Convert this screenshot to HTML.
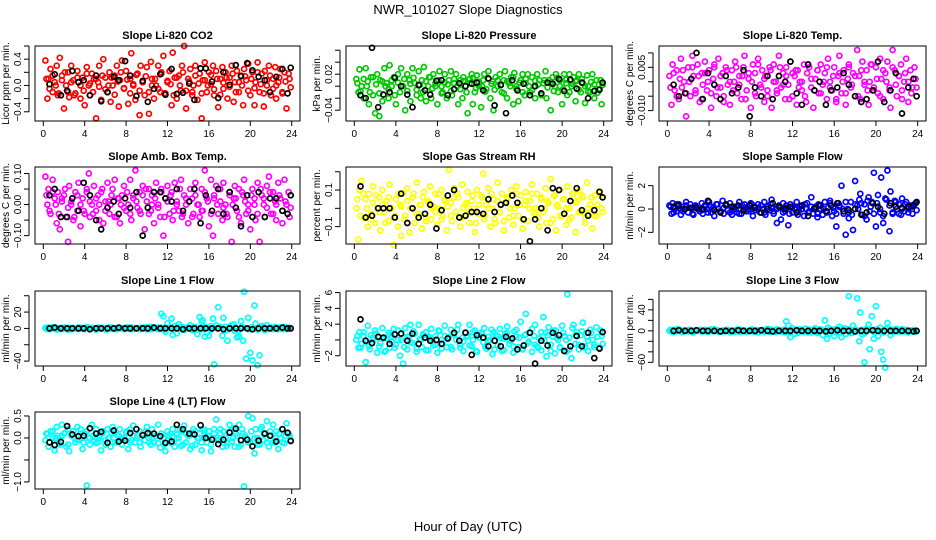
<!DOCTYPE html>
<html><head><meta charset="utf-8"><style>
body{margin:0;background:#fff;}
svg{display:block;font-family:"Liberation Sans",Arial,sans-serif;}
</style></head><body>
<svg id="chart" width="936" height="540" xmlns="http://www.w3.org/2000/svg">
<text x="468" y="14" text-anchor="middle" font-size="13">NWR_101027  Slope Diagnostics</text>
<text x="468" y="531" text-anchor="middle" font-size="13">Hour of Day (UTC)</text>
</svg>
<script>
const hours=[0.2,0.4,0.5,0.7,0.9,1.1,1.3,1.4,1.6,1.8,2.0,2.2,2.4,2.5,2.7,2.9,3.1,3.3,3.4,3.6,3.8,4.0,4.2,4.4,4.5,4.7,4.9,5.1,5.3,5.4,5.6,5.8,6.0,6.2,6.4,6.5,6.7,6.9,7.1,7.3,7.4,7.6,7.8,8.0,8.2,8.4,8.5,8.7,8.9,9.1,9.3,9.4,9.6,9.8,10.0,10.2,10.4,10.5,10.7,10.9,11.1,11.3,11.4,11.6,11.8,12.0,12.2,12.4,12.5,12.7,12.9,13.1,13.3,13.4,13.6,13.8,14.0,14.2,14.4,14.5,14.7,14.9,15.1,15.3,15.4,15.6,15.8,16.0,16.2,16.4,16.5,16.7,16.9,17.1,17.3,17.4,17.6,17.8,18.0,18.2,18.4,18.5,18.7,18.9,19.1,19.3,19.4,19.6,19.8,20.0,20.2,20.4,20.5,20.7,20.9,21.1,21.3,21.4,21.6,21.8,22.0,22.2,22.4,22.5,22.7,22.9,23.1,23.3,23.5,23.8];
const hoursB=[0.3,0.6,0.9,1.2,1.5,1.8,2.1,2.4,2.7,3.0,3.3,3.6,3.9,4.2,4.5,4.8,5.1,5.4,5.7,6.0,6.3,6.6,6.9,7.2,7.5,7.8,8.1,8.4,8.7,9.0,9.3,9.6,9.9,10.2,10.5,10.8,11.1,11.4,11.7,12.0,12.3,12.6,12.9,13.2,13.5,13.8,14.1,14.4,14.7,15.0,15.3,15.6,15.9,16.2,16.5,16.8,17.1,17.4,17.7,18.0,18.3,18.6,18.9,19.2,19.5,19.8,20.1,20.4,20.7,21.0,21.3,21.6,21.9,22.2,22.5,22.8,23.1,23.4,23.7,23.9];
const blackHours=[0.6,1.1,1.7,2.3,2.8,3.4,3.9,4.5,5.1,5.6,6.2,6.8,7.3,7.9,8.4,9.0,9.6,10.1,10.7,11.3,11.8,12.4,12.9,13.5,14.1,14.6,15.2,15.7,16.3,16.9,17.4,18.0,18.6,19.1,19.7,20.2,20.8,21.4,21.9,22.5,23.1,23.6,23.9];
const xTicks=[0,4,8,12,16,20,24];

const co2Values=[.38,-.2,.1,.25,-.1,.05,.3,-.15,.42,.15,-.35,.0,.2,-.18,.3,.08,-.12,.22,.05,-.2,.12,-.3,.28,.0,-.15,.18,.1,-.5,.05,.3,-.22,.4,.12,-.1,.2,-.25,.0,.15,.3,-.32,.08,.38,-.05,.22,-.28,.1,.49,.0,-.22,.18,-.45,.3,.05,-.15,.28,-.43,.36,.1,-.2,.0,.3,-.1,.2,.45,-.12,.05,.22,-.3,.5,.12,-.2,.15,-.08,.3,.6,-.35,.1,.25,-.15,.0,.3,-.22,.18,-.5,.08,.35,-.1,.2,.02,.3,-.15,.22,-.33,.1,.28,-.05,.2,-.2,.12,.3,-.25,.05,.22,-.1,.15,-.3,.25,.08,.33,-.15,.2,-.3,.05,.35,-.1,.18,-.32,.22,.0,.3,-.15,.1,.28,-.2,.05,.25,-.12,.2,-.35,.1];
const co2Core=[.1,-.05,.15,.0,-.12,.08,.2,-.1,.05,-.15,.12,.0,-.08,.18,.03,-.1,.1,-.02,.15,-.06,.0,.12,-.14,.06,.2,-.04,.09,-.12,.02,.16,-.08,.05,.14,-.1,.0,.1,-.05,.18,-.12,.07,.02,-.15,.12,.0,.2,-.08,.06,-.1,.15,.03,-.12,.08,.0,.16,-.06,.1,-.14,.04,.12,-.02,.18,-.1,.05,.0,.14,-.08,.1,-.04,.2,.02,-.12,.08,.15,-.05,.0,.12,-.1,.06,.18,-.03];
const co2Black=[.02,.17,-.15,-.08,.22,.05,.08,-.15,.15,-.24,-.1,.13,.08,.37,.15,-.16,.07,-.25,-.05,.17,-.14,.25,-.13,-.11,.03,-.22,.26,.26,.06,-.19,.2,.01,.31,.14,.34,.23,.13,.08,-.1,.13,.25,-.12,.27];
const pressValues=[.012,-.01,.028,.0,-.02,.03,.008,-.03,.015,-.015,-.045,.02,-.05,.01,-.025,.03,.005,-.02,.035,.0,.015,-.03,.02,-.01,.03,.0,-.04,.02,.01,-.025,.03,.005,-.015,.025,-.02,.01,.032,-.025,.0,.015,-.02,.02,.005,-.03,.025,.0,-.01,.02,-.02,.01,.025,-.015,.005,.02,-.03,.01,-.02,.015,.0,-.045,.012,.02,-.03,-.01,.018,.0,-.035,.01,.02,-.005,.025,-.02,.008,-.04,.015,.0,.02,-.01,.01,.025,-.02,.005,.015,-.03,.022,.0,-.025,.01,.02,-.015,.005,.02,-.01,.015,.0,-.02,.02,.01,-.015,.005,.025,-.02,.01,-.04,.015,.0,.02,-.01,.01,-.03,.02,.005,-.015,.02,.0,.015,-.025,.01,.02,-.01,.005,-.028,.018,.0,-.01,.02,-.02,.01,-.005,-.03];
const pressCore=[.005,-.008,.012,.0,-.01,.015,.003,-.012,.008,.0,-.005,.01,-.015,.006,.0,.012,-.008,.004,.014,-.006,.002,-.01,.008,.015,-.004,.0,.01,-.012,.006,.003,-.008,.012,.0,-.005,.009,-.01,.005,.014,-.003,.007,.0,-.009,.012,.004,-.006,.01,.002,-.012,.008,.0,.015,-.004,.006,-.01,.012,.0,-.007,.009,.003,-.012,.01,-.002,.006,-.008,.014,.0,-.005,.011,-.01,.004,.008,-.006,.012,.0,-.009,.007,.003,-.011,.01,.002];
const pressBlack=[-.015,-.02,.064,-.035,-.014,-.01,.014,.0,-.014,-.035,.002,-.007,-.014,.009,.01,-.015,-.005,.005,.0,.004,.006,-.007,.013,-.032,.002,-.045,.01,-.007,.004,-.015,.0,-.012,.006,.004,.012,-.008,.011,-.004,.006,-.02,-.008,-.006,.006];
const tempValues=[.002,-.008,.006,-.003,.004,-.006,.008,-.002,.0,-.012,.005,-.005,.009,.002,-.004,.006,-.007,.003,-.001,.007,-.003,.004,-.009,.001,.006,-.005,.008,-.002,.003,-.007,.005,-.001,-.008,.004,.0,.007,-.004,.002,-.006,.005,.009,-.003,.001,-.009,.006,.003,-.005,.008,-.001,.004,-.007,.002,-.003,.005,-.009,.006,.0,-.004,.009,-.002,.003,-.006,.005,-.001,.007,-.005,.002,-.008,.004,.0,-.003,.006,-.007,.003,.005,-.002,-.009,.001,.004,-.004,.006,-.001,.003,-.006,.008,.0,-.003,.005,-.007,.002,.009,-.004,.004,-.008,.001,.006,-.002,.003,-.005,.011,.002,-.006,.007,-.001,.004,-.008,.0,.006,-.003,.005,-.004,.008,.001,-.006,.003,.007,-.002,-.009,.011,.004,-.005,.002,.006,-.003,.0,.008,-.007,.004,-.002,.001];
const tempCore=[-.002,.003,-.005,.001,.004,-.004,.0,.005,-.003,.002,-.006,.003,.0,-.004,.005,-.002,.002,-.005,.004,.0,-.003,.005,-.001,.002,-.006,.003,.0,-.004,.006,-.002,.001,-.005,.004,.0,-.003,.005,-.001,.002,-.006,.003,.004,-.002,.0,-.005,.006,.001,-.003,.004,-.004,.0,.005,-.002,.002,-.006,.003,.0,-.004,.005,-.001,.002,-.005,.004,.0,-.003,.006,-.002,.001,-.005,.004,.0,-.003,.005,-.001,.002,-.006,.003,.0,-.004,.005,-.002];
const tempBlack=[-.001,-.005,-.004,.001,.01,-.006,.003,-.001,-.006,.002,-.004,-.002,.004,-.012,-.002,-.005,.002,-.006,.002,.0,.007,-.004,-.008,.006,-.003,.0,-.008,-.003,-.002,.003,-.001,-.005,-.007,-.006,-.003,.007,-.007,-.003,.003,-.011,-.002,.001,-.005];
const ambValues=[.09,.0,.05,-.03,.08,.02,-.06,.04,-.08,.01,.03,-.04,-.12,.06,.0,-.05,.04,-.02,.07,-.07,.02,-.03,.05,.1,-.04,.0,.06,-.02,.03,-.05,.04,-.06,.01,.07,-.03,.0,.05,.08,-.04,.02,-.06,.03,.06,-.02,.0,.08,-.05,.03,.11,-.01,.04,-.03,.06,-.08,.01,.05,-.02,.03,-.06,.07,.0,-.04,.05,-.1,.02,.06,-.03,.04,-.05,.07,.01,-.02,.08,-.04,.03,.0,-.06,.05,.02,-.03,.07,.0,-.04,.05,-.02,.11,.02,-.07,.08,-.1,.03,.06,-.03,.01,-.05,.07,.0,-.04,.04,-.12,.02,.06,-.02,.05,-.06,.03,.08,-.03,.0,-.08,.05,.02,-.05,.07,-.12,.03,.0,-.04,.06,.09,-.03,.04,.01,-.05,.07,.02,-.06,.08,.0,-.04];
const ambCore=[.03,-.02,.04,.0,-.03,.02,.05,-.01,.01,-.04,.03,.0,-.02,.04,.01,-.03,.02,.0,.05,-.02,.01,.03,-.04,.02,.0,-.01,.04,-.03,.02,.01,-.02,.03,.05,-.03,.0,.02,-.01,.04,-.04,.01,.03,-.02,.0,.05,-.03,.02,.01,-.04,.03,.0,-.02,.04,.01,-.03,.02,.0,.05,-.01,-.03,.03,.0,.02,-.04,.04,.01,-.02,.03,.0,-.03,.05,.02,-.01,.04,-.03,.0,.03,-.02,.01,.04,-.01];
const ambBlack=[.03,.05,-.04,-.04,.02,-.02,.07,.03,-.05,-.08,-.01,.01,-.03,.02,-.01,.04,-.1,-.01,.04,.04,.02,.01,.05,-.02,.01,.05,-.06,.03,-.02,.05,-.03,.04,-.01,-.07,.03,-.04,.04,-.04,.02,.02,-.02,-.03,.03];
const rhValues=[.0,-.17,.1,.15,-.05,.05,-.1,.08,-.03,.12,-.08,.0,.06,-.12,.1,-.02,.04,-.07,.13,.0,-.2,.05,-.1,.02,-.15,.08,-.04,.11,-.13,.0,.06,-.08,.14,-.03,.02,-.11,.09,-.05,.04,.12,-.06,.01,.08,-.09,.0,.1,-.04,.05,-.12,.21,.03,-.07,.11,-.02,.06,-.1,.13,-.05,.02,.09,-.08,.04,.0,-.13,.1,-.03,.07,.19,-.06,.02,.11,-.1,.0,.05,-.08,.14,-.02,.08,-.12,.03,.06,-.05,.1,-.09,.0,.12,-.04,.07,-.11,.02,.09,-.07,.04,.13,-.03,.0,.08,-.1,.05,-.02,.11,-.08,.03,.16,-.06,.07,-.12,.01,.1,-.04,.05,-.09,.12,.0,-.05,.08,-.13,.04,.1,-.02,.06,-.08,.14,-.03,.02,-.11,.07,-.04,.09,.0];
const rhCore=[.05,-.04,.08,.0,-.06,.03,.07,-.02,.02,-.08,.06,.0,-.04,.08,.01,-.06,.04,.0,.08,-.03,.02,.06,-.07,.03,.0,-.02,.08,-.06,.04,.01,-.04,.06,.08,-.05,.0,.03,-.02,.07,-.08,.02,.06,-.04,.0,.08,-.06,.04,.02,-.07,.05,.0,-.04,.08,.02,-.06,.04,.0,.08,-.02,-.05,.06,.0,.04,-.08,.07,.02,-.04,.05,.0,-.06,.08,.03,-.02,.07,-.05,.0,.06,-.04,.02,.07,-.02];
const rhBlack=[.12,-.05,-.04,.0,.0,.0,-.05,.08,-.08,.0,-.05,-.03,.02,-.11,-.01,.07,.1,-.05,-.04,-.02,-.02,-.03,.05,-.02,.02,.03,.07,.03,-.06,-.18,-.06,.0,-.12,.11,.1,-.03,.04,.11,-.01,-.04,-.01,.09,.06];
const sampleValues=[.3,-.4,.5,.0,-.2,.4,-.5,.2,.0,.6,-.3,.4,.1,-.5,.3,.0,-.2,.5,-.4,.2,.0,.6,-.3,.1,-.6,.4,.0,-.2,.7,-.4,.3,-.1,.5,-.5,.2,.0,-.3,.6,-.4,.1,.4,-.2,.0,.5,-.6,.2,-.1,.4,-.3,.0,.6,-.5,.2,-.1,.8,-.4,.0,-1.2,.3,-.9,.5,-.2,.1,-1.4,.4,-.3,.0,.6,-.5,.2,.3,-.6,.0,.5,-.2,1.0,-.4,.2,-.7,.4,.0,-.5,.6,-.3,.1,.7,-.6,-.2,-1.5,.5,.2,2.0,-.4,-2.2,.0,-.8,.6,-1.8,2.4,.3,.8,1.3,-.5,.4,-.9,1.0,-.2,.6,3.1,-1.5,1.2,-.3,2.7,-1.2,.9,3.3,-1.9,1.5,-.4,.7,.0,.4,-.5,.9,-.2,.6,.0,.3,-.4,.5];
const sampleCore=[.2,-.3,.4,.0,-.2,.3,.1,-.4,.2,.0,-.1,.3,-.3,.2,.0,.4,-.2,.1,.3,-.3,.0,.2,-.4,.3,.1,-.2,.4,-.1,.0,.3,-.3,.2,.4,-.2,.0,.1,-.3,.3,-.4,.2,.1,-.2,.0,.4,-.3,.2,.1,-.4,.3,.0,-.2,.5,.1,-.4,.3,.0,.6,-.3,-.5,.4,.0,.5,-.6,.7,.2,-.4,.5,.0,-.6,.8,.3,-.3,.6,-.4,.0,.4,-.3,.2,.4,-.1];
const sampleBlack=[.2,.3,.0,.1,.1,.0,.7,-.1,-.3,.4,.2,.3,-.1,.3,.1,-.3,.0,.5,.2,.0,.2,-.3,.3,-.6,.0,.3,-.2,.3,.5,-.2,-.1,.0,-.5,-.3,.5,.2,-.4,.5,.2,.1,.2,.3,.6];
const line1Values=[.5,-1,1,-.5,0,1.5,-1.5,.5,0,-1,1,-.5,0,.8,-1.2,.5,0,-1,1.2,-.3,.4,-1,0,1,-.8,.6,0,-1.5,1,.2,-.5,.8,0,-1,1.5,-.3,.5,0,-1.2,.8,0,.4,-.8,1,-.2,0,1.2,-1,.3,0,.8,-.5,1,0,-1,.5,2,-1,.5,0,1,-.5,18,15,-4,6,1,12,-8,3,-6,5,0,2,-2,1,0,4,-1,2,.5,-7,14,8,10,-10,-5,-9,3,12,-44,4,26,1,-9,13,2,-15,0,4,5,-3,-11,-10,9,-15,45,-37,13,-30,-39,28,6,-45,-33,3,1,-2,4,0,1,-1,2,0,-1,1,0,2,-1,0];
const line1Core=[1,-1,1.5,0,-1,.5,1,-1.5,.5,0,-.5,1,-1,1.5,0,.5,-1,.5,1,-1.5,0,1,-1,.5,0,-.5,1.5,-1,.5,0,-1,1,1.5,-1,0,.5,-1,1,-1.5,.5,1,-1,0,2,-1.5,1,.5,-2,1.5,0,-1,2,.5,-1.5,1,0,2,-1,-2,1.5,0,1,-2,2,.5,-1,1.5,0,-1.5,2,1,-1,1.5,-1,0,1,-1,.5,1,-.5];
const line1Black=[0,1,0,0,0,0,0,-1,0,0,0,0,1,0,0,0,0,0,1,0,0,0,0,-1,0,0,0,0,0,0,-1,0,0,0,0,-1,0,0,0,0,1,0,0];
const line2Values=[0,-1,1,-.5,.5,-2.8,1.8,-.8,.6,0,1.2,-1.6,.3,-.4,1.5,-1.5,.2,.9,-1,.5,1.4,-.6,0,-2,.8,-3,1.5,-1.2,.5,1.9,-.4,.8,-1.5,1.9,0,-.9,.6,1,-1.3,.2,1.4,-.7,.5,-1.6,1.1,0,-.5,1.8,-.9,.4,1.3,-1.2,.7,0,1.9,-.6,.3,-1.4,1,.5,1.9,-.8,0,1.2,-1.5,.6,.9,-.3,1.5,-1.1,.4,0,-1.8,1,.6,-.7,1.4,-1.4,.2,.8,1.7,-.5,0,-1.6,1.1,.4,-.9,2.3,-1.2,.6,3.3,-.4,1,-1.5,.5,1.9,-.8,.2,-1.3,2.9,.9,-2.1,1.6,-.6,.4,-1.7,1.2,0,-1,1.8,.5,-1.5,5.8,.3,-2.3,1.9,-.5,1,-1.2,.6,2.2,-.8,.4,-1.4,1.3,0,-.6,1.6,-1,.5];
const line2Core=[.5,-1,1,-.3,-1.2,.3,.8,-.8,.2,-1.4,.6,-.2,-1,1.2,0,-.9,.4,-.3,1.1,-1.1,.1,.7,-1.3,.4,-.2,-.6,1.2,-1.1,.5,.1,-.9,.7,1.3,-1,-.2,.4,-.7,1,-1.4,.3,.8,-.8,-.1,1.3,-1.2,.5,.2,-1.3,.9,-.1,-.8,1.3,.3,-1.1,.7,-.2,1.4,-.6,-1,1,-.1,.6,-1.4,1.2,.3,-.9,.9,0,-1.2,1.5,.6,-.6,1.1,-1,-.1,.9,-.9,.4,1.2,-.5];
const line2Black=[2.6,-.1,-.4,.4,.3,-.5,.7,.8,-.1,.8,-.5,.3,-.1,.0,-.5,.2,.9,-.1,.9,-1.9,.6,.3,-.8,-.1,-.8,.4,.2,-1.2,-.7,.9,-3.0,-.1,-.7,.9,.6,-1.4,-.8,.5,-.8,.9,-2.3,-1.1,1.0];
const line3Values=[0,2,-2,1,-1,3,0,-2,1,0,-1,2,0,-3,1,0,2,-1,0,1,-2,0,1,-1,3,0,-2,0,1,-1,0,2,-1,0,-2,1,0,3,-1,0,1,-2,0,2,-1,0,1,-3,0,2,-1,0,4,-2,0,1,-2,3,0,-1,2,-3,18,10,-12,5,-6,2,-4,3,0,-2,4,-1,2,-3,0,5,-2,1,3,-8,20,-15,6,-5,2,-10,4,-3,8,-12,5,-6,3,66,-4,10,-2,62,-20,35,-7,-60,4,12,-35,28,-15,47,-10,6,-40,-55,-70,15,3,-8,2,-1,4,-2,0,3,-1,2,-3,0,1,-2];
const line3Core=[2,-2,3,0,-2,1,2,-3,1,0,-1,2,-2,3,0,1,-2,1,2,-3,0,2,-2,1,0,-1,3,-2,1,0,-2,2,3,-2,0,1,-2,2,-3,1,2,-2,0,4,-3,2,1,-4,3,0,-2,4,1,-3,2,0,4,-2,-4,3,0,2,-4,4,1,-2,3,0,-3,4,2,-2,3,-2,0,2,-2,1,2,-1];
const line3Black=[0,1,0,0,1,0,0,0,-1,0,0,1,0,0,0,1,0,-1,0,0,0,1,0,0,0,0,-1,0,1,0,0,-1,0,0,1,0,0,0,0,0,0,-1,0];
const line4Values=[-.05,.1,-.2,.15,.0,-.28,.25,.05,-.15,.3,.1,-.2,.2,-.3,.05,.15,-.1,.25,-.05,.2,-.25,.1,-1.08,.0,-.15,.3,-.08,.2,-.1,.0,-.28,.15,-.05,.2,.0,-.2,.25,.1,-.1,.05,.2,-.15,.0,.12,-.25,.2,-.05,.28,-.1,.05,.15,-.2,.1,-.05,.25,.0,-.15,.2,-.1,.05,.3,-.22,.1,.0,-.3,.15,.05,-.12,.2,-.2,.08,.0,-.18,.15,.28,-.1,.05,-.25,.1,.2,-.15,.0,.1,-.28,.2,.05,-.1,.15,-.3,.0,.2,.42,-.05,.1,-.2,.15,.0,-.12,.3,-.08,.22,-.2,.05,.3,-.15,.1,-1.1,.0,.5,-.1,.45,-.35,.2,.0,-.15,.25,-.05,.1,.38,-.2,.05,.3,-.1,.15,-.25,.0,.2,-.12,.33,.05];
const line4Core=[.1,-.1,.15,.0,-.12,.05,.12,-.15,.05,.0,-.05,.1,-.1,.15,.0,.05,-.12,.05,.1,-.15,.0,.12,-.1,.05,.0,-.05,.15,-.1,.05,.0,-.1,.1,.15,-.1,.0,.05,-.12,.1,-.15,.05,.1,-.1,.0,.18,-.15,.1,.05,-.18,.15,.0,-.1,.18,.05,-.15,.1,.0,.2,-.1,-.18,.15,.0,.1,-.2,.2,.05,-.1,.15,.0,-.15,.2,.1,-.1,.15,-.1,.0,.1,-.1,.05,.1,-.05];
const line4Black=[-.1,-.16,-.09,.27,.08,.04,.05,.22,.1,.14,-.11,.17,-.08,-.06,.11,.2,.06,.11,.1,.04,-.11,-.08,.3,.2,.1,.08,.29,.0,-.04,-.14,-.04,.12,.21,-.05,-.04,-.19,-.06,.1,.05,-.08,.2,.12,-.07];

const panels=[
 {id:'co2',title:'Slope Li-820 CO2',yl:'Licor ppm per min.',c:0,r:0,dom:[-.54,.6],ticks:[-.4,-.2,0,.2,.4,.6],labels:{'-0.4':'−0.4','0':'0.0','0.4':'0.4'},col:'#ff0000',v:co2Values,k:co2Core,b:co2Black},
 {id:'pressure',title:'Slope Li-820 Pressure',yl:'kPa per min.',c:1,r:0,dom:[-.058,.067],ticks:[-.04,-.02,0,.02,.04,.06],labels:{'-0.04':'−0.04','0.02':'0.02'},col:'#00c800',v:pressValues,k:pressCore,b:pressBlack},
 {id:'temp',title:'Slope Li-820 Temp.',yl:'degrees C per min.',c:2,r:0,dom:[-.0136,.0124],ticks:[-.01,-.005,0,.005,.01],labels:{'-0.01':'−0.010','0.005':'0.005'},col:'#ff00ff',v:tempValues,k:tempCore,b:tempBlack},
 {id:'amb-box',title:'Slope Amb. Box Temp.',yl:'degrees C per min.',c:0,r:1,dom:[-.127,.121],ticks:[-.1,-.05,0,.05,.1],labels:{'-0.1':'−0.10','0':'0.00','0.1':'0.10'},col:'#ff00ff',v:ambValues,k:ambCore,b:ambBlack},
 {id:'rh',title:'Slope Gas Stream RH',yl:'percent per min.',c:1,r:1,dom:[-.195,.226],ticks:[-.1,0,.1,.2],labels:{'-0.1':'−0.1','0.1':'0.1'},col:'#ffff00',v:rhValues,k:rhCore,b:rhBlack},
 {id:'sample-flow',title:'Slope Sample Flow',yl:'ml/min per min.',c:2,r:1,dom:[-3.0,3.6],ticks:[-2,0,2],labels:{'-2':'−2','0':'0','2':'2'},col:'#0000ff',v:sampleValues,k:sampleCore,b:sampleBlack},
 {id:'line1',title:'Slope Line 1 Flow',yl:'ml/min per min.',c:0,r:2,dom:[-46,45.8],ticks:[-40,-20,0,20,40],labels:{'-40':'−40','0':'0','20':'20'},col:'#00ffff',v:line1Values,k:line1Core,b:line1Black},
 {id:'line2',title:'Slope Line 2 Flow',yl:'ml/min per min.',c:1,r:2,dom:[-3.3,6.2],ticks:[-2,0,2,4,6],labels:{'-2':'−2','2':'2','4':'4','6':'6'},col:'#00ffff',v:line2Values,k:line2Core,b:line2Black},
 {id:'line3',title:'Slope Line 3 Flow',yl:'ml/min per min.',c:2,r:2,dom:[-67,76],ticks:[-60,-40,-20,0,20,40,60],labels:{'-60':'−60','0':'0','40':'40'},col:'#00ffff',v:line3Values,k:line3Core,b:line3Black},
 {id:'line4',title:'Slope Line 4 (LT) Flow',yl:'ml/min per min.',c:0,r:3,dom:[-1.16,.59],ticks:[-1,-.5,0,.5],labels:{'-1':'−1.0','0':'0.0','0.5':'0.5'},col:'#00ffff',v:line4Values,k:line4Core,b:line4Black}
];
const colX=[[35,300],[346,612],[659,926]];
const rowY=[[46,121],[167,244],[291,366],[412,489]];
const NS='http://www.w3.org/2000/svg';
const svg=document.getElementById('chart');
function mk(tag,attrs,parent){const e=document.createElementNS(NS,tag);for(const k in attrs)e.setAttribute(k,attrs[k]);(parent||svg).appendChild(e);return e;}
panels.forEach(p=>{
 const [x0,x1]=colX[p.c],[y0,y1]=rowY[p.r];
 const xs=h=>x0+(h+0.8)/25.6*(x1-x0);
 const ys=v=>y1-(v-p.dom[0])/(p.dom[1]-p.dom[0])*(y1-y0);
 const g=mk('g',{});
 
 
 const t=mk('text',{x:(x0+x1)/2,y:y0-7,'text-anchor':'middle','font-size':11,'font-weight':'bold'},g);t.textContent=p.title;
 
 
 const pts=mk('g',{fill:'none','stroke-width':1.7},g);
 
 
 const nk=Math.min(hoursB.length,p.k.length);
 for(let i=0;i<nk;i++){const cc=mk('circle',{cx:xs(hoursB[i]).toFixed(1),cy:ys(p.k[i]).toFixed(1),r:2.5,stroke:p.col},pts);
  
  }
 const n=Math.min(hours.length,p.v.length);
 for(let i=0;i<n;i++){const cc=mk('circle',{cx:xs(hours[i]).toFixed(1),cy:ys(p.v[i]).toFixed(1),r:2.5,stroke:p.col},pts);
  
  }
 const m=Math.min(blackHours.length,p.b.length);
 for(let i=0;i<m;i++){const cc=mk('circle',{cx:xs(blackHours[i]).toFixed(1),cy:ys(p.b[i]).toFixed(1),r:2.5,stroke:'#000'},pts);
  
  }
 const box=mk('rect',{x:x0,y:y0,width:x1-x0,height:y1-y0,fill:'none',stroke:'#000','stroke-width':1},g);
 
 
 const xa=mk('g',{},g);
 
 
 xTicks.forEach(h=>{const X=xs(h);mk('line',{x1:X,x2:X,y1:y1,y2:y1+5,stroke:'#000'},xa);
  const l=mk('text',{x:X,y:y1+16,'text-anchor':'middle','font-size':10},xa);l.textContent=h;});
 const ya=mk('g',{},g);
 
 
 const inT=p.ticks.filter(v=>v>=p.dom[0]&&v<=p.dom[1]);
 mk('line',{x1:x0-6,x2:x0-6,y1:ys(Math.min(...inT)),y2:ys(Math.max(...inT)),stroke:'#000'},ya);
 inT.forEach(v=>{const Y=ys(v);mk('line',{x1:x0-6,x2:x0-11,y1:Y,y2:Y,stroke:'#000'},ya);
  const key=String(+v.toFixed(4));
  if(p.labels[key]!==undefined){const l=mk('text',{x:0,y:0,'text-anchor':'middle','font-size':10,transform:`translate(${x0-14},${Y}) rotate(-90)`},ya);l.textContent=p.labels[key];}});
 const yl=mk('text',{x:0,y:0,'text-anchor':'middle','font-size':10,transform:`translate(${x0-26},${(y0+y1)/2}) rotate(-90)`},g);yl.textContent=p.yl;
 
 
});
</script>
</body></html>
